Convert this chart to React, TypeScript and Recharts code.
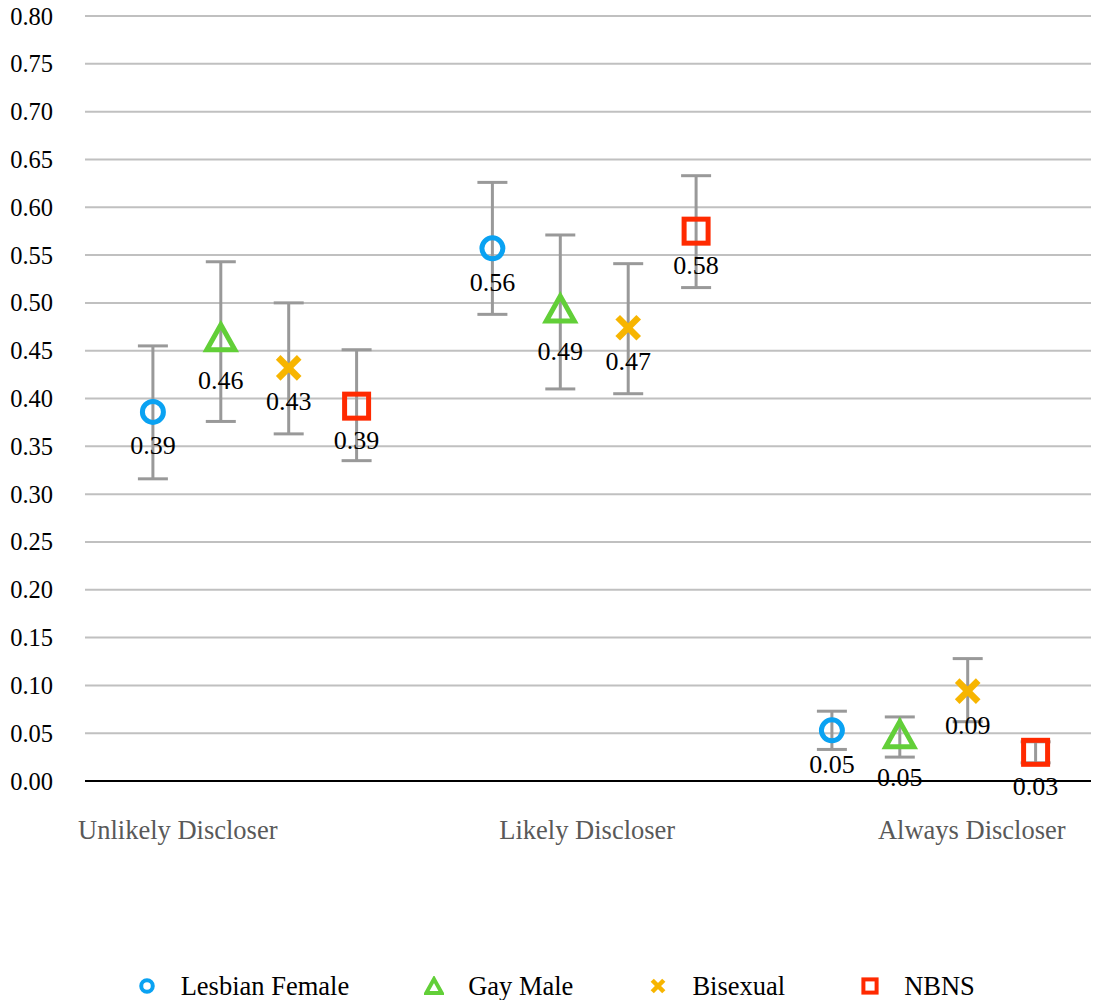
import React from "react";
import { ScatterChart, Scatter, XAxis, YAxis, CartesianGrid, ErrorBar, Legend } from "recharts";

const FONT = "Liberation Serif, Times New Roman, serif";

const categories = ["Unlikely Discloser", "Likely Discloser", "Always Discloser"];
const seriesNames = ["Lesbian Female", "Gay Male", "Bisexual", "NBNS"];
const seriesColors = ["#0aa2f2", "#62cf38", "#f7b500", "#ff2a00"];
const seriesOffsets = [-0.3, -0.1, 0.1, 0.3];

// per series: one value per category
const lesbianValues = [0.386, 0.557, 0.053];
const lesbianLow = [0.316, 0.488, 0.033];
const lesbianHigh = [0.455, 0.626, 0.073];

const gayValues = [0.464, 0.494, 0.049];
const gayLow = [0.376, 0.410, 0.025];
const gayHigh = [0.543, 0.571, 0.067];

const biValues = [0.432, 0.474, 0.094];
const biLow = [0.363, 0.405, 0.062];
const biHigh = [0.500, 0.541, 0.128];

const nbnsValues = [0.392, 0.575, 0.030];
const nbnsLow = [0.335, 0.516, 0.019];
const nbnsHigh = [0.451, 0.633, 0.041];

const valueLabels = [
  ["0.39", "0.56", "0.05"],
  ["0.46", "0.49", "0.05"],
  ["0.43", "0.47", "0.09"],
  ["0.39", "0.58", "0.03"],
];

const yTicks = [0, 0.05, 0.1, 0.15, 0.2, 0.25, 0.3, 0.35, 0.4, 0.45, 0.5, 0.55, 0.6, 0.65, 0.7, 0.75, 0.8];
const xTicks = [0.5, 1.5, 2.5];

const buildSeries = (s: number, vals: number[], lo: number[], hi: number[]) =>
  vals.map((v, i) => ({
    x: i + 0.5 + seriesOffsets[s],
    y: v,
    err: [v - lo[i], hi[i] - v],
    label: valueLabels[s][i],
  }));

const seriesData = [
  buildSeries(0, lesbianValues, lesbianLow, lesbianHigh),
  buildSeries(1, gayValues, gayLow, gayHigh),
  buildSeries(2, biValues, biLow, biHigh),
  buildSeries(3, nbnsValues, nbnsLow, nbnsHigh),
];

// x label nudges so they sit like the original
const labelShift = [-77, -7, 38];
const labelDy = [34, 43, 34, 34];

function Marker({ kind, cx, cy, color, small }: { kind: number; cx: number; cy: number; color: string; small?: boolean }) {
  const k = small ? 0.55 : 1;
  const sw = small ? 4 : 5;
  if (kind === 0) {
    return <circle cx={cx} cy={cy} r={10.5 * k} fill="none" stroke={color} strokeWidth={sw} />;
  }
  if (kind === 1) {
    const w = 14 * k;
    const h = 12.5 * k;
    return (
      <path
        d={`M${cx},${cy - h} L${cx + w},${cy + h} L${cx - w},${cy + h} Z`}
        fill="none"
        stroke={color}
        strokeWidth={sw}
        strokeLinejoin="miter"
      />
    );
  }
  if (kind === 2) {
    const d = 10.5 * k;
    return (
      <g stroke={color} strokeWidth={small ? 4.5 : 6.5}>
        <line x1={cx - d} y1={cy - d} x2={cx + d} y2={cy + d} />
        <line x1={cx - d} y1={cy + d} x2={cx + d} y2={cy - d} />
      </g>
    );
  }
  const s = 12 * k;
  return <rect x={cx - s} y={cy - s} width={s * 2} height={s * 2} fill="none" stroke={color} strokeWidth={sw} />;
}

const makeShape = (s: number) => (props: any) => {
  const { cx, cy, payload } = props;
  return (
    <g>
      <Marker kind={s} cx={cx} cy={cy} color={seriesColors[s]} />
      <text
        x={cx}
        y={cy + labelDy[s]}
        textAnchor="middle"
        dominantBaseline="central"
        fontSize={26}
        style={{ fontFamily: FONT }}
        fill="#000"
      >
        {payload.label}
      </text>
    </g>
  );
};

const XTick = (props: any) => {
  const { x, y, payload } = props;
  const i = Math.floor(payload.value);
  return (
    <text
      x={x + labelShift[i]}
      y={y + 49}
      textAnchor="middle"
      dominantBaseline="central"
      fontSize={26.5}
      style={{ fontFamily: FONT }}
      fill="#595959"
    >
      {categories[i]}
    </text>
  );
};

const YTick = (props: any) => {
  const { x, y, payload } = props;
  return (
    <text x={x} y={y} textAnchor="end" dominantBaseline="central" fontSize={24.5} style={{ fontFamily: FONT }} fill="#000">
      {Number(payload.value).toFixed(2)}
    </text>
  );
};

const renderLegend = () => (
  <div
    style={{
      height: 44,
      display: "flex",
      justifyContent: "center",
      alignItems: "center",
      fontFamily: FONT,
      fontSize: 26.5,
      color: "#000",
    }}
  >
    {seriesNames.map((name, s) => (
      <div key={name} style={{ display: "flex", alignItems: "center", marginRight: s < 3 ? 75 : 0 }}>
        <svg width={20} height={20} style={{ marginRight: 24, display: "block" }}>
          <Marker kind={s} cx={10} cy={10} color={seriesColors[s]} small />
        </svg>
        <span>{name}</span>
      </div>
    ))}
  </div>
);

export default function App() {
  return (
    <div style={{ margin: -8, width: 1099, height: 1008, fontFamily: FONT }}>
      <ScatterChart width={1099} height={1008} margin={{ top: 16, right: -4.5, left: 8, bottom: 0 }}>
        <CartesianGrid vertical={false} stroke="#c0c0c0" strokeWidth={2} />
        <XAxis
          type="number"
          dataKey="x"
          domain={[0, 3]}
          ticks={xTicks}
          tick={<XTick />}
          tickLine={false}
          tickSize={0}
          tickMargin={0}
          height={183}
          axisLine={{ stroke: "#000", strokeWidth: 2 }}
          allowDataOverflow
        />
        <YAxis
          type="number"
          dataKey="y"
          domain={[0, 0.8]}
          ticks={yTicks}
          interval={0}
          width={77}
          axisLine={false}
          tickLine={false}
          tickSize={0}
          tickMargin={32}
          tick={<YTick />}
        />
        <Legend verticalAlign="bottom" content={renderLegend} />
        {seriesData.map((data, s) => (
          <Scatter
            key={seriesNames[s]}
            name={seriesNames[s]}
            data={data}
            fill={seriesColors[s]}
            shape={makeShape(s)}
            isAnimationActive={false}
          >
            <ErrorBar dataKey="err" direction="y" width={15} stroke="#999999" strokeWidth={3} />
          </Scatter>
        ))}
      </ScatterChart>
    </div>
  );
}
